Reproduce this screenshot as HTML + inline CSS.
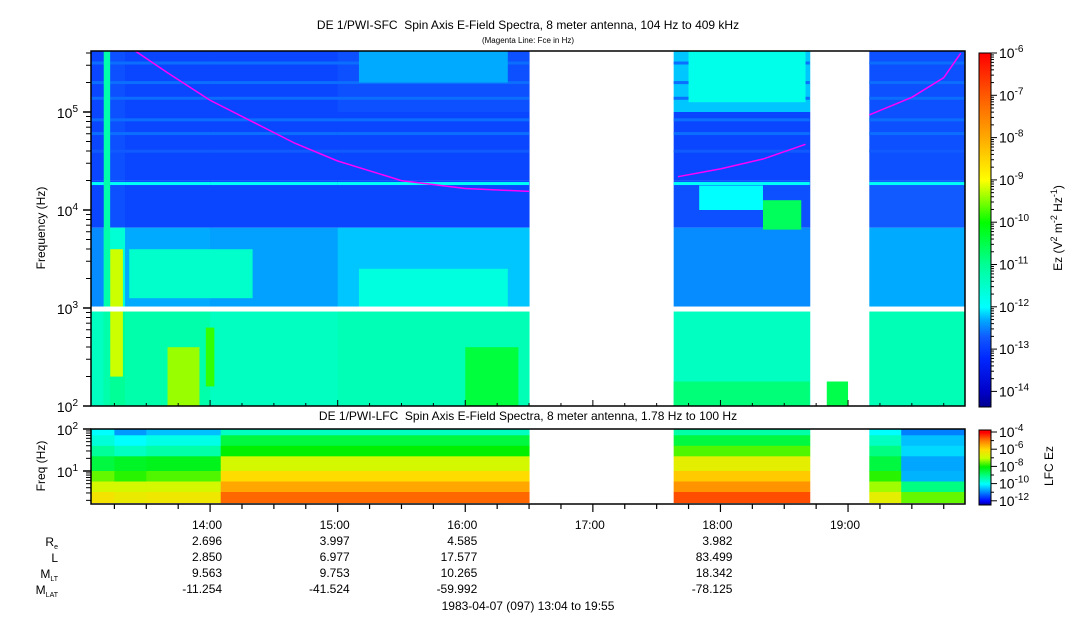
<!DOCTYPE html>
<html><head><meta charset="utf-8">
<style>
body{margin:0;background:#fff;font-family:"Liberation Sans",sans-serif;}
svg text{font-family:"Liberation Sans",sans-serif;fill:#000;}
</style></head>
<body>
<svg id="c" width="1083" height="620" xmlns="http://www.w3.org/2000/svg">
<text x="528" y="29" font-size="12" text-anchor="middle">DE 1/PWI-SFC&#160; Spin Axis E-Field Spectra, 8 meter antenna, 104 Hz to 409 kHz</text>
<text x="528" y="43" font-size="8" text-anchor="middle">(Magenta Line: Fce in Hz)</text>
<text x="528" y="420" font-size="12" text-anchor="middle">DE 1/PWI-LFC&#160; Spin Axis E-Field Spectra, 8 meter antenna, 1.78 Hz to 100 Hz</text>
<g id="topg"></g>
<g id="botg"></g>
<g id="axes"></g>
<text transform="translate(45,228) rotate(-90)" font-size="12" text-anchor="middle">Frequency (Hz)</text>
<text transform="translate(45,466) rotate(-90)" font-size="12" text-anchor="middle">Freq (Hz)</text>
<text transform="translate(1062,228) rotate(-90)" font-size="12" text-anchor="middle">Ez (V<tspan baseline-shift="super" font-size="9">2</tspan> m<tspan baseline-shift="super" font-size="9">-2</tspan> Hz<tspan baseline-shift="super" font-size="9">-1</tspan>)</text>
<text transform="translate(1053,466) rotate(-90)" font-size="12" text-anchor="middle">LFC Ez</text>
<g font-size="12" text-anchor="end">
<text x="58" y="546">R<tspan font-size="7" dy="3">e</tspan></text>
<text x="58" y="562">L</text>
<text x="58" y="578">M<tspan font-size="7" dy="3">LT</tspan></text>
<text x="58" y="594">M<tspan font-size="7" dy="3">LAT</tspan></text>
</g>
<text x="528" y="610" font-size="12" text-anchor="middle">1983-04-07 (097) 13:04 to 19:55</text>
</svg>
<script>
const NS='http://www.w3.org/2000/svg';
const tStart=4, tEnd=415;
const hourTicks=['14:00','15:00','16:00','17:00','18:00','19:00'];
const hourMin=[60,120,180,240,300,360];
const ephRe=['2.696','3.997','4.585','','3.982',''];
const ephL=['2.850','6.977','17.577','','83.499',''];
const ephMLT=['9.563','9.753','10.265','','18.342',''];
const ephMLAT=['-11.254','-41.524','-59.992','','-78.125',''];
const segT=[[4,10],[10,20],[20,60],[60,120],[120,210],[278,342],[370,415]];
const topBands=[[5.0,5.62],[4.3,5.0],[3.82,4.3],[3.0,3.82],[2.0,3.0]];
const topLevels=[
 [-12.9,-12.8,-12.9,-12.9,-12.8,-12.2,-12.8],
 [-12.9,-12.8,-12.9,-12.9,-12.9,-12.9,-12.8],
 [-12.9,-12.8,-12.9,-12.9,-12.9,-12.8,-12.7],
 [-12.45,-11.6,-12.3,-12.35,-12.2,-12.45,-12.3],
 [-11.4,-11.0,-11.2,-11.4,-11.3,-11.4,-11.3]];
const blobs=[
 [13,19,2.3,3.6,-9.2],[40,55,2.0,2.6,-9.4],[58,62,2.2,2.8,-9.8],
 [22,80,3.1,3.6,-11.5],[130,200,3.0,3.4,-11.7],[180,205,2.0,2.6,-10.4],[350,360,2.0,2.25,-10.5],
 [130,200,5.3,5.62,-12.3],[285,340,5.1,5.62,-11.8],[320,338,3.8,4.1,-10.6],[290,320,4.0,4.25,-12.0],
 [278,342,2.0,2.25,-10.8],[10,13,2.0,5.62,-11.2]];
const stripes=[[4.27,-11.9],[5.5,-12.6],[5.3,-12.6],[5.14,-12.6],[4.92,-12.6],[4.78,-12.6],[4.6,-12.7]];
const botBands=[[1.85,2.0],[1.6,1.85],[1.35,1.6],[1.0,1.35],[0.75,1.0],[0.5,0.75],[0.25,0.5]];
const botSegT=[[4,15],[15,30],[30,65],[65,210],[278,342],[370,385],[385,415]];
const botLevels=[
 [-10.0,-10.8,-10.5,-9.5,-9.3,-10.0,-11.0],
 [-9.7,-10.0,-9.8,-8.5,-8.5,-9.5,-10.5],
 [-9.2,-9.5,-9.3,-8.0,-7.6,-9.0,-10.3],
 [-8.5,-8.3,-8.2,-6.8,-6.5,-8.5,-10.7],
 [-7.5,-7.8,-7.6,-6.0,-5.8,-7.8,-10.6],
 [-6.8,-6.8,-6.8,-5.4,-5.2,-7.2,-9.0],
 [-6.2,-6.4,-6.3,-4.8,-4.6,-6.5,-7.5]];
const fce1=[[25,5.62],[40,5.4],[60,5.12],[80,4.9],[100,4.68],[120,4.5],[150,4.3],[180,4.22],[210,4.19]];
const fce2=[[280,4.34],[300,4.42],[320,4.52],[340,4.67]];
const fce3=[[370,4.97],[390,5.15],[405,5.35],[413,5.6]];

const X0=91,X1=965;
const x=t=>X0+(t-tStart)/(tEnd-tStart)*(X1-X0);
const yTop=lf=>210-(lf-4)*98;
const yBot=lf=>471-(lf-1)*42;
function interp(v,st){if(v<=st[0][0])return 'rgb('+st[0][1].join(',')+')';
 for(let i=1;i<st.length;i++){if(v<=st[i][0]){const a=st[i-1],b=st[i],f=(v-a[0])/(b[0]-a[0]);
  return 'rgb('+a[1].map((c,k)=>Math.round(c+(b[1][k]-c)*f)).join(',')+')';}}
 return 'rgb('+st[st.length-1][1].join(',')+')';}
const topStops=[[-14.5,[0,0,120]],[-14,[0,0,200]],[-13.2,[0,40,255]],[-12.7,[16,90,255]],[-12.3,[0,170,255]],[-12,[0,255,255]],[-11,[0,255,150]],[-10,[0,255,0]],[-9,[255,255,0]],[-8,[255,170,0]],[-7,[255,90,0]],[-6,[255,0,0]]];
const botStops=[[-12.5,[0,0,120]],[-12,[0,0,255]],[-11,[0,128,255]],[-10,[0,255,255]],[-9,[0,255,128]],[-8,[0,240,0]],[-7,[200,255,0]],[-6,[255,220,0]],[-5,[255,130,0]],[-4,[255,0,0]]];
const topC=v=>interp(v,topStops), botC=v=>interp(v,botStops);
function rect(g,x0,y0,w,h,fill,name){const r=document.createElementNS(NS,'rect');
 r.setAttribute('x',x0);r.setAttribute('y',y0);r.setAttribute('width',w);r.setAttribute('height',h);r.setAttribute('fill',fill);
 
 
 g.appendChild(r);return r;}
function line(g,a,b,c,d,name,w){const l=document.createElementNS(NS,'line');
 l.setAttribute('x1',a);l.setAttribute('y1',b);l.setAttribute('x2',c);l.setAttribute('y2',d);l.setAttribute('stroke','#000');l.setAttribute('stroke-width',w||1);
 
 
 g.appendChild(l);}
function text(g,xx,yy,s,sz,anchor,name){const t=document.createElementNS(NS,'text');
 t.setAttribute('x',xx);t.setAttribute('y',yy);t.setAttribute('font-size',sz);t.setAttribute('text-anchor',anchor);t.innerHTML=s;
 
 
 g.appendChild(t);}
const topG=document.getElementById('topg'),botG=document.getElementById('botg'),ax=document.getElementById('axes');
topBands.forEach((b,i)=>segT.forEach((s,j)=>{const y0=yTop(b[1]),y1=yTop(b[0]);
 rect(topG,x(s[0]),y0,x(s[1])-x(s[0])+0.5,y1-y0,topC(topLevels[i][j]),'sfc-cell');}));
segT.forEach(s=>stripes.forEach(st=>{
 rect(topG,x(s[0]),yTop(st[0])-1.5,x(s[1])-x(s[0]),3,topC(st[1]),'sfc-stripe');}));
blobs.forEach(b=>rect(topG,x(b[0]),yTop(b[3]),x(b[1])-x(b[0]),yTop(b[2])-yTop(b[3]),topC(b[4]),'sfc-emission'));
rect(topG,X0,yTop(3.015),X1-X0,5,'#fff','band-gap');
[fce1,fce2,fce3].forEach(f=>{const p=document.createElementNS(NS,'polyline');
 p.setAttribute('points',f.map(q=>x(q[0])+','+yTop(q[1])).join(' '));
 p.setAttribute('fill','none');p.setAttribute('stroke','#ff00ff');p.setAttribute('stroke-width','1.5');
 
 
 topG.appendChild(p);});
botBands.forEach((b,i)=>botSegT.forEach((s,j)=>{const y0=yBot(b[1]),y1=yBot(b[0]);
 rect(botG,x(s[0]),y0,x(s[1])-x(s[0])+0.5,y1-y0+0.5,botC(botLevels[i][j]),'lfc-cell');}));
const yT0=51,yT1=406,yB0=429,yB1=504;
[[yT0,yT1],[yB0,yB1]].forEach(([a,b])=>{const r=rect(ax,X0,a,X1-X0,b-a,'none','plot-frame');r.setAttribute('stroke','#000');r.setAttribute('stroke-width','1.5');});
for(let d=2;d<=5;d++){line(ax,X0-8,yTop(d),X0,yTop(d),'y-major-tick',1.5);
 text(ax,X0-13,yTop(d)+6,'10<tspan font-size="10" dy="-6">'+d+'</tspan>',14,'end','y-tick-label');
 for(let m=2;m<=9;m++){const lf=d+Math.log10(m);if(lf>5.62)break;line(ax,X0-5,yTop(lf),X0,yTop(lf),'y-minor-tick');}}
[2,1].forEach(d=>{line(ax,X0-8,yBot(d),X0,yBot(d),'y-major-tick',1.5);
 text(ax,X0-13,yBot(d)+6,'10<tspan font-size="10" dy="-6">'+d+'</tspan>',14,'end','y-tick-label');});
for(let m=2;m<=9;m++){[0,1].forEach(d=>{const lf=d+Math.log10(m);if(lf>0.25&&lf<2)line(ax,X0-5,yBot(lf),X0,yBot(lf),'y-minor-tick');});}
for(let t=15;t<tEnd;t+=15){const major=t%60===0;line(ax,x(t),yB1,x(t),yB1+(major?8:5),'x-tick',1.2);line(ax,x(t),yT1,x(t),yT1-(major?6:3),'x-tick-top');}
hourMin.forEach((m,i)=>{const xx=x(m)+12;
 text(ax,xx,529,hourTicks[i],12,'end','x-tick-label');
 text(ax,xx,545,ephRe[i],12,'end','re-value');
 text(ax,xx,561,ephL[i],12,'end','l-value');
 text(ax,xx,577,ephMLT[i],12,'end','mlt-value');
 text(ax,xx,593,ephMLAT[i],12,'end','mlat-value');});
const cbX=979,cbW=12;
for(let y=53;y<407;y++){const v=-6-(y-53)/42.3;rect(ax,cbX,y,cbW,1.2,topC(v),'colorbar-top-cell');}
const rt=rect(ax,cbX,53,cbW,354,'none','colorbar-top-frame');rt.setAttribute('stroke','#000');
for(let e=-6;e>=-14;e--){const y=53+(-6-e)*42.3;line(ax,cbX+cbW,y,cbX+cbW+6,y,'colorbar-tick');
 text(ax,cbX+cbW+8,y+5,'10<tspan font-size="10" dy="-6">'+e+'</tspan>',14,'start','colorbar-label');
 for(let m=2;m<=9;m++){const yy=y-Math.log10(m)*42.3;if(yy>53)line(ax,cbX+cbW,yy,cbX+cbW+3,yy,'colorbar-minor-tick');}}
for(let y=430;y<505;y++){const v=-4-(y-432)/8.6;rect(ax,cbX,y,cbW,1.2,botC(v),'colorbar-bottom-cell');}
const rb=rect(ax,cbX,430,cbW,75,'none','colorbar-bottom-frame');rb.setAttribute('stroke','#000');
for(let e=-4;e>=-12;e-=2){const y=432+(-4-e)*8.6;line(ax,cbX+cbW,y,cbX+cbW+6,y,'colorbar-tick');
 text(ax,cbX+cbW+8,y+5,'10<tspan font-size="10" dy="-6">'+e+'</tspan>',14,'start','colorbar-label');}
for(let e=-5;e>=-11;e-=2){const y=432+(-4-e)*8.6;line(ax,cbX+cbW,y,cbX+cbW+3,y,'colorbar-minor-tick');}
</script>
</body></html>
